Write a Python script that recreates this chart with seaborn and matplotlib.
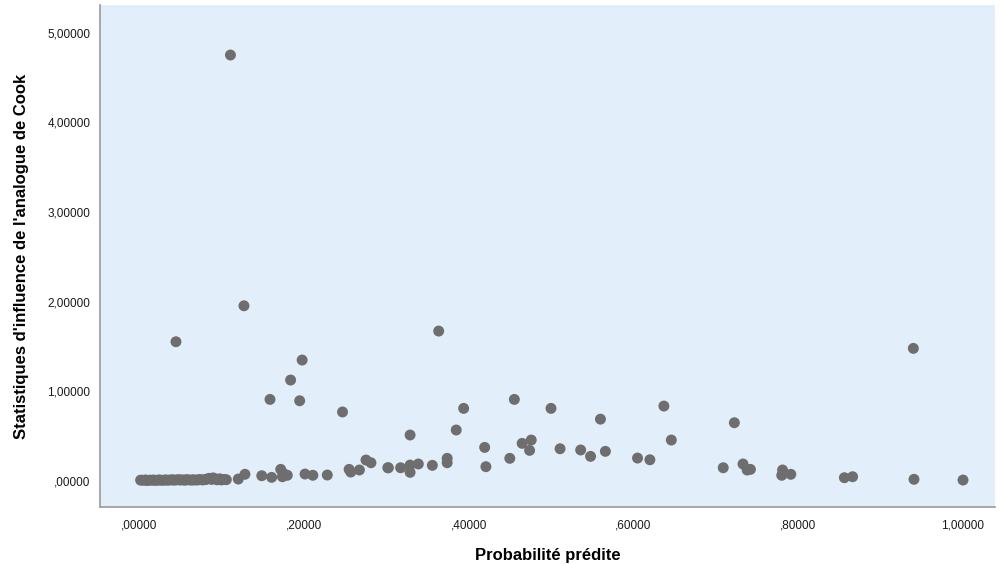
import matplotlib
matplotlib.use("Agg")
import matplotlib.pyplot as plt
from matplotlib.ticker import FuncFormatter
import seaborn as sns
import pandas as pd

# Predicted probability (x) and Cook's analogue influence (y)
cluster_x = [0.002, 0.005, 0.008, 0.010, 0.013, 0.016, 0.018, 0.021, 0.024, 0.026,
             0.029, 0.032, 0.034, 0.037, 0.040, 0.042, 0.045, 0.048, 0.050, 0.053,
             0.056, 0.058, 0.061, 0.064, 0.066, 0.069, 0.072, 0.074, 0.077, 0.080,
             0.082, 0.085, 0.088, 0.090, 0.093, 0.095, 0.098, 0.100, 0.103, 0.106]
cluster_y = [0.010, 0.008, 0.012, 0.006, 0.010, 0.009, 0.011, 0.007, 0.012, 0.010,
             0.008, 0.013, 0.009, 0.011, 0.014, 0.010, 0.012, 0.015, 0.011, 0.013,
             0.009, 0.016, 0.012, 0.010, 0.014, 0.011, 0.013, 0.017, 0.012, 0.015,
             0.020, 0.030, 0.018, 0.035, 0.022, 0.014, 0.025, 0.012, 0.018, 0.015]
other_x = [0.1205, 0.1286, 0.149, 0.161, 0.172, 0.175, 0.180, 0.174, 0.2015, 0.211,
           0.2285, 0.255, 0.257, 0.2675, 0.2755, 0.2815, 0.302, 0.3026, 0.3175, 0.329,
           0.329, 0.339, 0.356, 0.374, 0.374, 0.421, 0.450, 0.474, 0.4195, 0.465,
           0.476, 0.511, 0.536, 0.548, 0.566, 0.605, 0.620, 0.646, 0.709, 0.733,
           0.738, 0.742, 0.781, 0.780, 0.791, 0.856, 0.866, 0.9405, 1.000,
           0.111, 0.1274, 0.0449, 0.198, 0.184, 0.159, 0.195, 0.247, 0.3637, 0.329,
           0.385, 0.394, 0.4555, 0.500, 0.560, 0.637, 0.7225, 0.9397]
other_y = [0.022, 0.075, 0.059, 0.041, 0.130, 0.086, 0.064, 0.048, 0.078, 0.064,
           0.067, 0.130, 0.100, 0.123, 0.234, 0.204, 0.148, 0.148, 0.148, 0.178,
           0.097, 0.190, 0.175, 0.253, 0.204, 0.160, 0.253, 0.342, 0.375, 0.420,
           0.457, 0.360, 0.346, 0.275, 0.331, 0.256, 0.237, 0.457, 0.148, 0.190,
           0.123, 0.130, 0.123, 0.064, 0.075, 0.037, 0.048, 0.019, 0.011,
           4.750, 1.954, 1.553, 1.349, 1.126, 0.910, 0.895, 0.770, 1.672, 0.513,
           0.569, 0.810, 0.910, 0.810, 0.690, 0.836, 0.650, 1.479]

x_ticks = [0.0, 0.2, 0.4, 0.6, 0.8, 1.0]
y_ticks = [0, 1, 2, 3, 4, 5]

df = pd.DataFrame({"prob": cluster_x + other_x, "cook": cluster_y + other_y})

sns.set_style("white")
plt.rcParams["font.family"] = ["Liberation Sans", "DejaVu Sans"]

fig = plt.figure(figsize=(10, 5.64), dpi=100)
ax = fig.add_axes([0.10, 0.101, 0.895, 0.890])
ax.set_facecolor("#E2EEFA")

sns.scatterplot(data=df, x="prob", y="cook", ax=ax, color="#6E6E6E",
                s=62, edgecolor="none", alpha=1.0)

ax.set_xlim(-0.0473, 1.0388)
ax.set_ylim(-0.29, 5.307)
ax.set_xticks(x_ticks)
ax.set_yticks(y_ticks)

def fmt(v, pos):
    s = f"{v:.5f}".replace(".", ",")
    if s.startswith("0,"):
        s = s[1:]
    return s

ax.xaxis.set_major_formatter(FuncFormatter(fmt))
ax.yaxis.set_major_formatter(FuncFormatter(fmt))
ax.tick_params(axis="both", length=0, labelsize=8.5, colors="#1A1A1A")
ax.tick_params(axis="x", pad=9)
ax.tick_params(axis="y", pad=7)

for side in ["top", "right"]:
    ax.spines[side].set_visible(False)
for side in ["left", "bottom"]:
    ax.spines[side].set_color("#999999")
    ax.spines[side].set_linewidth(1.2)

ax.set_xlabel("Probabilité prédite", fontsize=12, fontweight="bold",
              labelpad=12, color="black")
ax.set_ylabel("Statistiques d'influence de l'analogue de Cook", fontsize=12,
              fontweight="bold", labelpad=13, color="black")

fig.savefig("out.png", dpi=100)
